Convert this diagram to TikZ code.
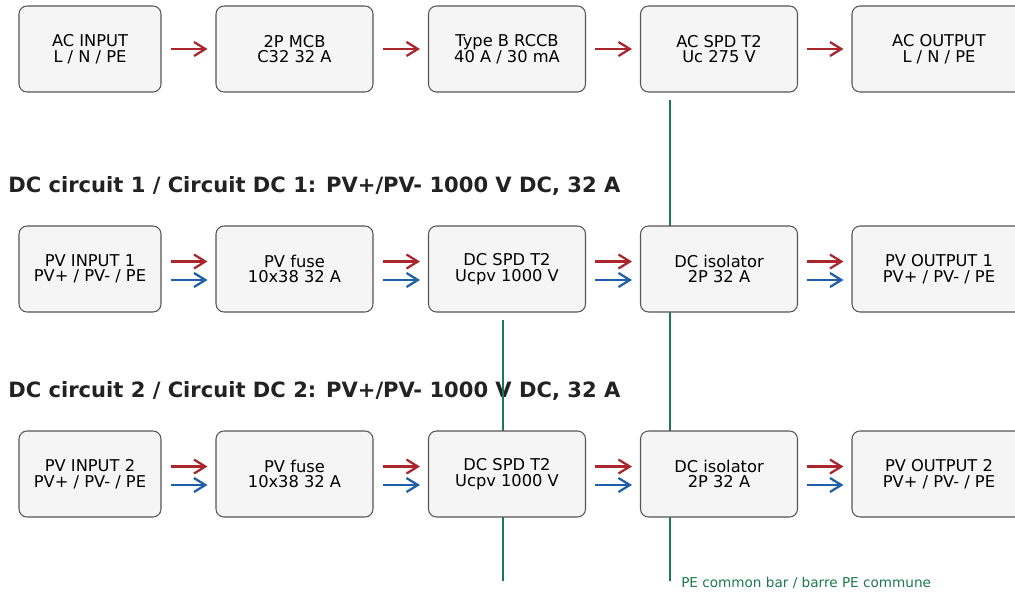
\documentclass[tikz,border=0pt]{standalone}
\usepackage{fontspec}
\setmainfont{DejaVu Sans}
\usetikzlibrary{arrows.meta}
\definecolor{acred}{HTML}{A8262C}
\definecolor{dcblue}{HTML}{1F5FA8}
\definecolor{pegreen}{HTML}{1A7A4C}
\definecolor{boxfill}{HTML}{F5F5F5}
\definecolor{boxedge}{HTML}{555555}
\definecolor{titletext}{HTML}{222222}
\begin{document}
\begin{tikzpicture}[x=0.75pt, y=-0.75pt,
        every node/.style={font=\fontsize{12.2}{11.6}\selectfont},
        devbox/.style={rectangle, rounded corners=6pt,
            minimum width=117.75pt, minimum height=64.5pt,
            align=center, text centered, inner sep=0pt,
            draw=boxedge, line width=0.8pt, fill=boxfill},
        endbox/.style={devbox, minimum width=106.5pt},
        outbox/.style={devbox, minimum width=130.5pt},
        flow/.style={-{Straight Barb[length=8.5pt, width=10.5pt]}, line width=1.7pt,
            shorten <=6.75pt, shorten >=6pt},
        acflow/.style={flow, draw=acred},
        dcflow/.style={flow, draw=dcblue},
        pebar/.style={draw=pegreen, line width=1.9pt},
        circtitle/.style={anchor=base west, text=titletext, inner sep=0pt,
            font=\bfseries\fontsize{15.8}{17}\selectfont},
        pelabel/.style={anchor=base west, text=pegreen, inner sep=0pt,
            font=\fontsize{10.2}{11}\selectfont}
      ]
      \useasboundingbox (0,0) rectangle (1015,592);
      % circuit titles
      \node[circtitle] (title1) at (8,192)
      {DC circuit 1 / Circuit DC 1: PV+/PV- 1000 V DC, 32 A};
      \node[circtitle] (title2) at (8,397)
      {DC circuit 2 / Circuit DC 2: PV+/PV- 1000 V DC, 32 A};
      % PE bars (behind the boxes)
      \coordinate (pe1top) at (670,100);
      \coordinate (pe1bot) at (670,581);
      \coordinate (pe2top) at (503,320);
      \coordinate (pe2bot) at (503,581);
      \draw[pebar] (pe1top) -- (pe1bot);
      \draw[pebar] (pe2top) -- (pe2bot);
      \node[pelabel] (pelbl) at (681,587) {PE common bar / barre PE commune};
      % AC row
      \node[endbox] (acin) at (90, 49) {AC INPUT\\L / N / PE};
      \node[devbox] (mcb) at (294.5, 49) {2P MCB\\C32 32 A};
      \node[devbox] (rccb) at (507, 49) {Type B RCCB\\40 A / 30 mA};
      \node[devbox] (acspd) at (719, 49) {AC SPD T2\\Uc 275 V};
      \node[outbox] (acout) at (939, 49) {AC OUTPUT\\L / N / PE};
      % DC circuit 1
      \node[endbox] (pvin1) at (90, 269) {PV INPUT 1\\PV+ / PV- / PE};
      \node[devbox] (fuse1) at (294.5, 269) {PV fuse\\10x38 32 A};
      \node[devbox] (dcspd1) at (507, 269) {DC SPD T2\\Ucpv 1000 V};
      \node[devbox] (iso1) at (719, 269) {DC isolator\\2P 32 A};
      \node[outbox] (pvout1) at (939, 269) {PV OUTPUT 1\\PV+ / PV- / PE};
      % DC circuit 2
      \node[endbox] (pvin2) at (90, 474) {PV INPUT 2\\PV+ / PV- / PE};
      \node[devbox] (fuse2) at (294.5, 474) {PV fuse\\10x38 32 A};
      \node[devbox] (dcspd2) at (507, 474) {DC SPD T2\\Ucpv 1000 V};
      \node[devbox] (iso2) at (719, 474) {DC isolator\\2P 32 A};
      \node[outbox] (pvout2) at (939, 474) {PV OUTPUT 2\\PV+ / PV- / PE};
      % AC arrows
      \draw[acflow] (acin.east)  -- (mcb.west);
      \draw[acflow] (mcb.east)   -- (rccb.west);
      \draw[acflow] (rccb.east)  -- (acspd.west);
      \draw[acflow] (acspd.east) -- (acout.west);
      % DC arrows, PV+ red and PV- blue
      \foreach \a/\b in {pvin1/fuse1, fuse1/dcspd1, dcspd1/iso1, iso1/pvout1,
                         pvin2/fuse2, fuse2/dcspd2, dcspd2/iso2, iso2/pvout2} {
        \draw[acflow] ([yshift=5.6pt]\a.east) -- ([yshift=5.6pt]\b.west);
        \draw[dcflow] ([yshift=-8.25pt]\a.east) -- ([yshift=-8.25pt]\b.west);
      }
    \end{tikzpicture}
\end{document}
